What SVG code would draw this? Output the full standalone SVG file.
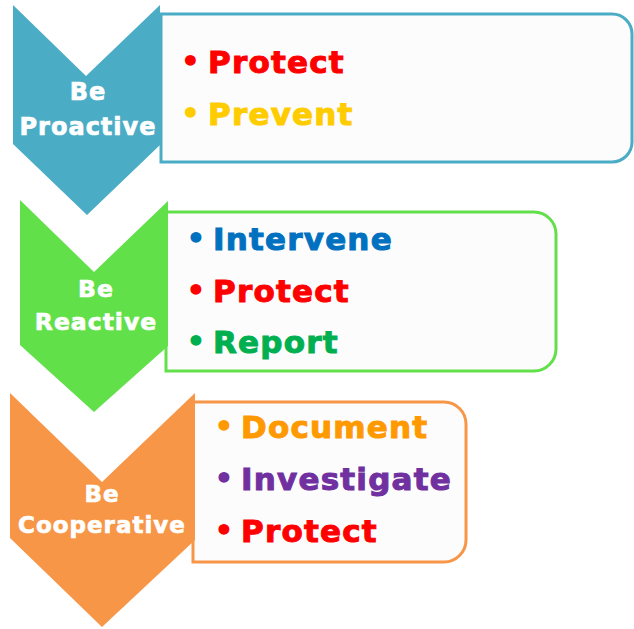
<svg xmlns="http://www.w3.org/2000/svg" width="634" height="629" viewBox="0 0 634 629">
  <style>
    .box { fill: #FCFCFC; stroke-width: 3; }
    .chev { stroke: none; }
    .lbl { font-family: "DejaVu Sans", Verdana, sans-serif; font-weight: bold; fill: #FFFFFF; stroke: #FFFFFF; stroke-width: 0.7; text-anchor: middle; letter-spacing: 1px; }
    .item { font-family: "DejaVu Sans", Verdana, sans-serif; font-weight: bold; font-size: 31px; stroke-width: 1; letter-spacing: 1.2px; }
    .dot { font-family: "DejaVu Sans", Verdana, sans-serif; font-weight: bold; font-size: 31px; text-anchor: middle; }
  </style>
  <rect width="634" height="629" fill="#FFFFFF"/>

  <!-- Stage 1: Be Proactive -->
  <g id="proactive">
    <path class="box" stroke="#4BACC6" d="M161,14 H612 A20,20 0 0 1 632,34 V142 A20,20 0 0 1 612,162 H161 Z"/>
    <path class="chev" fill="#4BACC6" d="M13,5 L86,76 L160,5 L160,145 L87,215 L13,144 Z"/>
    <text class="lbl" font-size="24" x="88" y="100">Be</text>
    <text class="lbl" font-size="24" x="88" y="135">Proactive</text>
    <text class="dot" fill="#FF0000" x="190.5" y="72">•</text>
    <text class="item" fill="#FF0000" stroke="#FF0000" x="208" y="73">Protect</text>
    <text class="dot" fill="#FFCC00" x="190.5" y="124">•</text>
    <text class="item" fill="#FFCC00" stroke="#FFCC00" x="208" y="125">Prevent</text>
  </g>

  <!-- Stage 2: Be Reactive -->
  <g id="reactive">
    <path class="box" stroke="#62E04A" d="M166,212 H534 A22,22 0 0 1 556,234 V349 A22,22 0 0 1 534,371 H166 Z"/>
    <path class="chev" fill="#62E04A" d="M20,200 L94,272 L168,201 L168,346 L94,412 L20,345 Z"/>
    <text class="lbl" font-size="23.5" x="96" y="297">Be</text>
    <text class="lbl" font-size="23.5" x="96" y="330">Reactive</text>
    <text class="dot" fill="#0070C0" x="196" y="249">•</text>
    <text class="item" fill="#0070C0" stroke="#0070C0" x="213" y="250">Intervene</text>
    <text class="dot" fill="#FF0000" x="196" y="301">•</text>
    <text class="item" fill="#FF0000" stroke="#FF0000" x="213" y="302">Protect</text>
    <text class="dot" fill="#00B050" x="196" y="352">•</text>
    <text class="item" fill="#00B050" stroke="#00B050" x="213" y="353">Report</text>
  </g>

  <!-- Stage 3: Be Cooperative -->
  <g id="cooperative">
    <path class="box" stroke="#F79646" d="M193,402 H444 A22,22 0 0 1 466,424 V540 A22,22 0 0 1 444,562 H193 Z"/>
    <path class="chev" fill="#F79646" d="M10,393 L102,482 L195,393 L195,540 L102,627 L10,538 Z"/>
    <text class="lbl" font-size="23" x="102" y="502">Be</text>
    <text class="lbl" font-size="23" x="102" y="533">Cooperative</text>
    <text class="dot" fill="#FF9900" x="224" y="437">•</text>
    <text class="item" fill="#FF9900" stroke="#FF9900" x="241" y="438">Document</text>
    <text class="dot" fill="#7030A0" x="224" y="489">•</text>
    <text class="item" fill="#7030A0" stroke="#7030A0" x="241" y="490">Investigate</text>
    <text class="dot" fill="#FF0000" x="224" y="541">•</text>
    <text class="item" fill="#FF0000" stroke="#FF0000" x="241" y="542">Protect</text>
  </g>
</svg>
